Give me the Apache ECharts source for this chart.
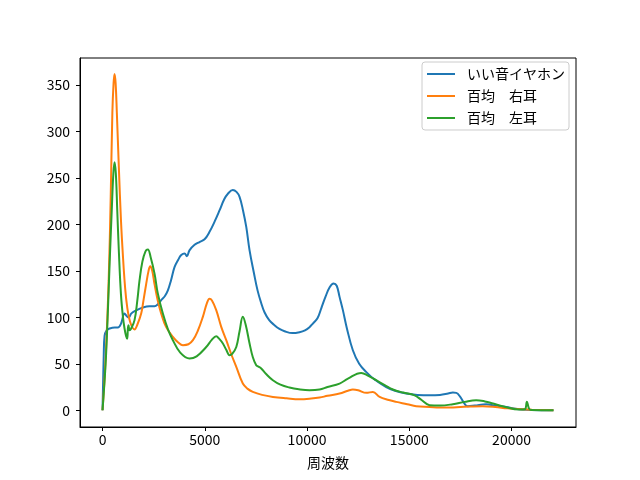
<!DOCTYPE html>
<html><head><meta charset="utf-8">
<script src="https://cdn.jsdelivr.net/npm/echarts@6/dist/echarts.min.js"></script>
<style>html,body{margin:0;padding:0;background:#fff}#c{width:640px;height:480px}</style>
</head><body><div id="c"></div>
<script>
const seriesNames = ['いい音イヤホン', '百均　右耳', '百均　左耳'];
const xTicks = [0, 5000, 10000, 15000, 20000];
const yTicks = [0, 50, 100, 150, 200, 250, 300, 350];
const xLabel = '周波数';

const blueX = [0,60,100,200,350,600,750,900,1076,1200,1288,1400,1600,1972,2300,2543,2700,2870,3050,3195,3350,3520,3700,3850,4010,4124,4250,4500,4740,4990,5232,5500,5720,5950,6130,6370,6550,6700,6870,7030,7190,7400,7580,7750,7920,8150,8410,8650,8900,9290,9630,9900,10120,10285,10510,10700,10900,11100,11296,11450,11590,11750,11950,12240,12550,12900,13300,13870,14300,14850,15400,15990,16500,16900,17130,17300,17500,17700,17860,18200,18760,19200,19740,20100,20540,21000,22050];
const blueY = [0,60,80,86,88,89,89,93,104,101,100,104,107,110.6,112,112,114,118.5,123,129,140,154,162,167,168.7,165.8,172,178,181,184,192,204,215,227,233,237,235,229.7,215,197,172,148,129,116,105.5,97,91.5,87.5,85,83,84,86,89.4,93.3,99,110,122,132,136.4,134,122,108,88,64.6,50,41,33,25,21,18,16.5,16,16.5,18,19,18.7,14,7,4.3,5,6.5,5,3.6,2,0.7,0.3,0];

const orangeX = [0,150,300,400,480,540,587,640,700,800,900,1000,1100,1200,1350,1565,1700,1890,2000,2135,2250,2330,2430,2540,2700,2870,3100,3440,3700,3930,4200,4420,4650,4905,5100,5232,5350,5560,5800,6050,6300,6540,6860,7100,7350,7800,8330,9000,9630,10200,10611,11000,11590,12000,12240,12500,12900,13220,13550,14000,14360,14900,15340,16000,16480,17000,17500,18000,18580,19200,19800,20500,21000,22050];
const orangeY = [0,55,140,230,320,352,362,352,320,260,205,165,133,112,95,87,92,104,118,136,150,155,150,136,118,104,90,79,73,70,71,75.4,85,100.5,115,120,118,107.7,90,75.4,60,46.7,28.7,23,19.7,16.5,14.3,12.8,11.8,12.5,13.6,15.5,18,21,22.3,21.5,18.7,19.7,14.3,11,9,6.5,4.3,3.5,2.9,3,3.5,4,4.3,3.5,2,1,0.5,0];

const greenX = [0,150,250,350,450,530,587,650,720,800,900,1000,1076,1150,1206,1240,1270,1320,1400,1565,1700,1810,1950,2100,2217,2350,2543,2700,2950,3200,3440,3800,4254,4600,5070,5350,5560,5700,5885,6050,6210,6350,6540,6700,6860,7000,7190,7350,7515,7620,7760,8000,8330,8700,9140,9600,10120,10611,11000,11590,12000,12650,13000,13380,13800,14200,14700,15260,15600,15990,16500,17130,17700,18270,18700,19090,19600,20390,20650,20750,20850,20950,22050];
const greenY = [0,50,100,160,215,255,267,255,215,170,125,100,88,80,77,88,91.5,86,88,97,118,140,160,171,173,165,147,126,104,87,75.4,62,55.6,58,68,76,79.7,77,71.8,65,59.2,61,68,85,100.5,92,71.8,57,48.5,47,45,39,32.3,27.5,24.4,22.5,21.5,22.3,25,28.7,34,40.2,37,32.3,27,22.3,19,16,11,5.4,5,6.5,9,10.8,9.5,7.2,4,0.7,1,9,2,0.3,0];

const colors = ['#1f77b4', '#ff7f0e', '#2ca02c'];
const xs = [blueX, orangeX, greenX];
const ys = [blueY, orangeY, greenY];
const font = '"Noto Sans CJK JP", "DejaVu Sans", sans-serif';

const chart = echarts.init(document.getElementById('c'), null, {renderer: 'canvas'});
chart.setOption({
  animation: false,
  color: colors,
  grid: {left: 80, right: 64, top: 58, bottom: 53, show: true, borderColor: '#000', borderWidth: 1, backgroundColor: 'transparent'},
  legend: {
    orient: 'vertical', right: 71, top: 62,
    data: seriesNames,
    icon: 'rect', itemWidth: 28, itemHeight: 2, itemGap: 8,
    borderColor: '#ccc', borderWidth: 1, borderRadius: 3,
    padding: [5, 4, 5, 5], backgroundColor: '#fff',
    textStyle: {fontFamily: font, fontSize: 14, color: '#000', padding: [0, 0, 0, 7]}
  },
  xAxis: {
    type: 'value', min: -1102, max: 23152,
    name: xLabel, nameLocation: 'middle', nameGap: 29,
    nameTextStyle: {fontFamily: font, fontSize: 14, color: '#000'},
    axisLine: {show: true, onZero: false, lineStyle: {color: '#000', width: 1}},
    axisTick: {show: true, length: 4, customValues: xTicks, lineStyle: {color: '#000'}},
    axisLabel: {customValues: xTicks, formatter: v => String(v), fontFamily: font, fontSize: 14, color: '#000', margin: 6},
    splitLine: {show: false}
  },
  yAxis: {
    type: 'value', min: -18.05, max: 379.1,
    axisLine: {show: true, onZero: false, lineStyle: {color: '#000', width: 1}},
    axisTick: {show: true, length: 4, customValues: yTicks, lineStyle: {color: '#000'}},
    axisLabel: {customValues: yTicks, formatter: v => String(v), fontFamily: font, fontSize: 14, color: '#000', margin: 10},
    splitLine: {show: false}
  },
  series: seriesNames.map((n, i) => ({
    name: n, type: 'line', showSymbol: false, symbol: 'none',
    smooth: 0.4,
    lineStyle: {width: 2, color: colors[i]},
    itemStyle: {color: colors[i]},
    data: xs[i].map((x, j) => [x, ys[i][j]])
  }))
});
</script></body></html>
